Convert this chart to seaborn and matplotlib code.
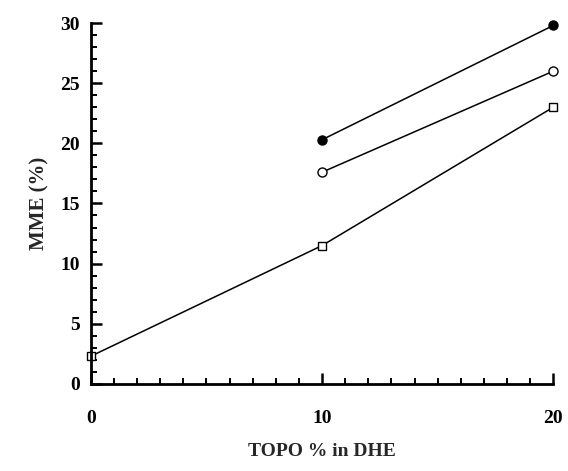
import pandas as pd
import matplotlib.pyplot as plt
import matplotlib.ticker as mticker
import seaborn as sns

# ── Data ──────────────────────────────────────────────────────────────────────
topo_filled = [10, 20]
mme_filled = [20.3, 29.8]

topo_open = [10, 20]
mme_open = [17.6, 26.0]

topo_square = [0, 10, 20]
mme_square = [2.3, 11.5, 23.0]

x_ticks = [0, 10, 20]
y_ticks = [0, 5, 10, 15, 20, 25, 30]

# ── Style ─────────────────────────────────────────────────────────────────────
sns.set_theme(style="ticks")
plt.rcParams["font.family"] = ["Liberation Serif", "DejaVu Serif"]
plt.rcParams["font.weight"] = "bold"

fig = plt.figure(figsize=(5.68, 4.71), dpi=100)
ax = fig.add_axes([0.160, 0.185, 0.814, 0.766])

series = [
    (topo_filled, mme_filled, dict(marker="o", markerfacecolor="black", markersize=6.5)),
    (topo_open, mme_open, dict(marker="o", markerfacecolor="white", markersize=6.5)),
    (topo_square, mme_square, dict(marker="s", markerfacecolor="white", markersize=5.5)),
]
for xs, ys, kw in series:
    df = pd.DataFrame({"x": xs, "y": ys})
    sns.lineplot(data=df, x="x", y="y", ax=ax, color="black", linewidth=1.1,
                 markeredgecolor="black", markeredgewidth=1.0, clip_on=False, **kw)

ax.set_xlim(0, 20)
ax.set_ylim(0, 30)
ax.set_xticks(x_ticks)
ax.set_yticks(y_ticks)
ax.xaxis.set_minor_locator(mticker.MultipleLocator(1))
ax.yaxis.set_minor_locator(mticker.MultipleLocator(1))

ax.tick_params(which="major", direction="in", length=8, width=1.8,
               labelsize=14, colors="black")
ax.tick_params(axis="y", which="major", pad=8)
ax.tick_params(axis="x", which="major", pad=19)
ax.tick_params(which="minor", direction="in", length=4, width=1.4, colors="black")
for lab in ax.get_xticklabels() + ax.get_yticklabels():
    lab.set_fontweight("bold")

sns.despine(ax=ax)
for side in ("left", "bottom"):
    ax.spines[side].set_linewidth(2)
    ax.spines[side].set_color("black")

ax.set_xlabel("TOPO % in DHE", fontsize=14, fontweight="bold", labelpad=11)
ax.set_ylabel("MME (%)", fontsize=15, fontweight="bold", labelpad=8)

fig.savefig("out.png", dpi=100)
